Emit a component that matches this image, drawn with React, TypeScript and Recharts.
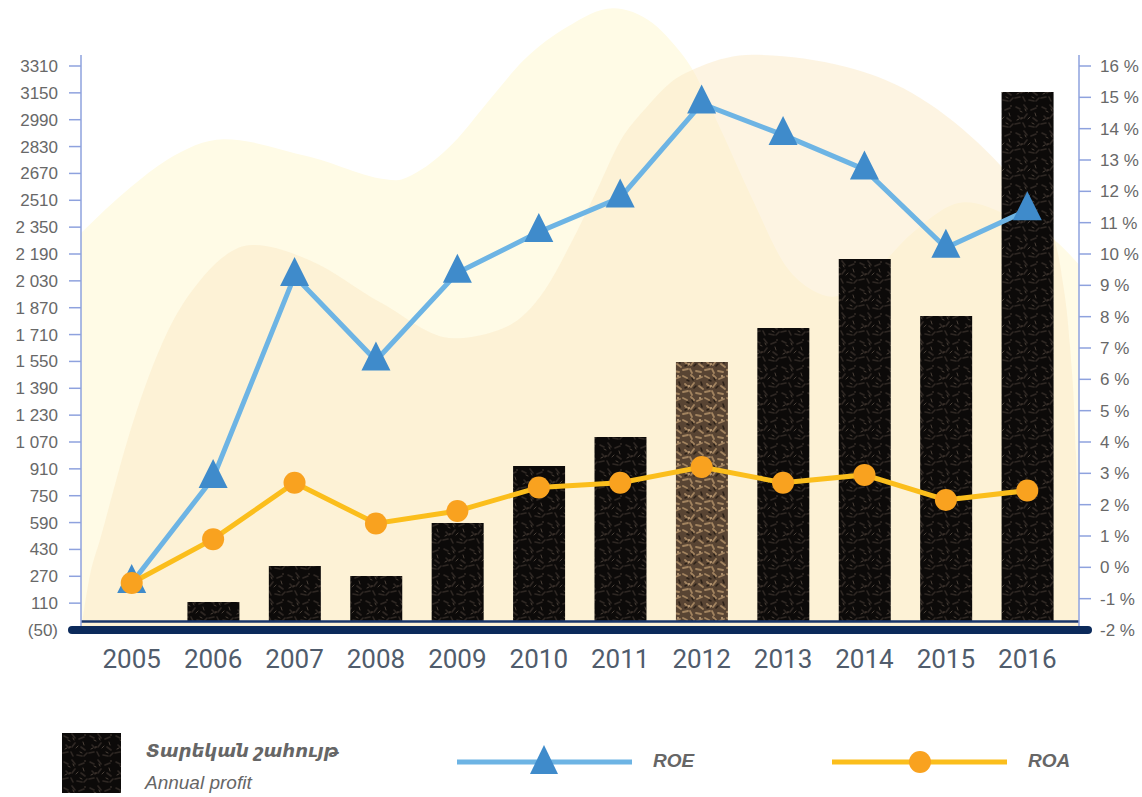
import React from "react";
import { Area, AreaChart, Bar, Cell, ComposedChart, Line, ReferenceLine, XAxis, YAxis } from "recharts";

const YEARS = ["2005", "2006", "2007", "2008", "2009", "2010", "2011", "2012", "2013", "2014", "2015", "2016"];
const PROFIT = [0, 117, 331, 272, 587, 927, 1100, 1546, 1749, 2160, 1820, 3155];
const ROE = [-0.5, 2.85, 9.3, 6.6, 9.4, 10.7, 11.8, 14.8, 13.8, 12.7, 10.2, 11.4];
const ROA = [-0.5, 0.9, 2.7, 1.4, 1.8, 2.55, 2.7, 3.2, 2.7, 2.95, 2.15, 2.45];

const LEFT_TICKS = [-50, 110, 270, 430, 590, 750, 910, 1070, 1230, 1390, 1550, 1710, 1870, 2030, 2190, 2350, 2510, 2670, 2830, 2990, 3150, 3310];
const LEFT_TICK_LABELS = ["(50)", "110", "270", "430", "590", "750", "910", "1 070", "1 230", "1 390", "1 550", "1 710", "1 870", "2 030", "2 190", "2 350", "2510", "2670", "2830", "2990", "3150", "3310"];
const RIGHT_TICKS = [-2, -1, 0, 1, 2, 3, 4, 5, 6, 7, 8, 9, 10, 11, 12, 13, 14, 15, 16];

// decorative background shapes, x and h in percent of the plot box
const BLOB_LIGHT = [
  { x: 0, h: 63 }, { x: 5, h: 70.3 }, { x: 8.6, h: 74.6 }, { x: 14.3, h: 77.9 }, { x: 22.9, h: 75.1 },
  { x: 31.6, h: 71.4 }, { x: 33.7, h: 72.7 }, { x: 37.3, h: 77.3 }, { x: 40.9, h: 84.1 }, { x: 44.4, h: 90.5 },
  { x: 48.7, h: 95.7 }, { x: 53.3, h: 98.7 }, { x: 57.3, h: 96.3 }, { x: 59, h: 93.7 }, { x: 61.3, h: 88.9 },
  { x: 64, h: 79.8 }, { x: 67.3, h: 68.3 }, { x: 70.7, h: 57.6 }, { x: 73.2, h: 54 }, { x: 75.3, h: 52.9 },
  { x: 79.9, h: 57.6 }, { x: 83.3, h: 63 }, { x: 88.6, h: 67.9 }, { x: 93.2, h: 65.6 }, { x: 97.5, h: 62 },
  { x: 100, h: 58 },
];
const BLOB_WARM = [
  { x: 0, h: 0 }, { x: 0.9, h: 8.7 }, { x: 1.9, h: 14.3 }, { x: 5.2, h: 32.9 }, { x: 8.6, h: 47.1 },
  { x: 12.2, h: 56 }, { x: 17.2, h: 61.1 }, { x: 22.9, h: 58.7 }, { x: 30.1, h: 51.9 }, { x: 37.3, h: 46.3 },
  { x: 42.6, h: 48.1 }, { x: 46.5, h: 54 }, { x: 49, h: 61.1 }, { x: 51.7, h: 69.8 }, { x: 54, h: 77.5 },
  { x: 56.7, h: 83 }, { x: 59, h: 86.8 }, { x: 62, h: 89.4 }, { x: 67.3, h: 91.3 }, { x: 76.6, h: 89.4 },
  { x: 83.3, h: 85.2 }, { x: 89.9, h: 77.3 }, { x: 93.2, h: 71.9 }, { x: 96.6, h: 65.6 }, { x: 98.2, h: 57 },
  { x: 99.1, h: 45 }, { x: 99.7, h: 28 }, { x: 100, h: 0 },
];

const data = YEARS.map((year, i) => ({ year, profit: PROFIT[i], roe: ROE[i], roa: ROA[i] }));

const W = 1142;
const H = 797;
const AXIS = "#8ea2de";
const TICK_FONT = { fontSize: 17, fill: "#686868", fontFamily: "Liberation Sans, Arial, sans-serif" };
const ROE_LINE = "#6db4e4";
const ROE_MARK = "#3f8bcb";
const ROA_LINE = "#fbbe1c";
const ROA_MARK = "#f9a21f";

function SoilPatterns() {
  return (
    <>
      <pattern id="soil" width="26" height="26" patternUnits="userSpaceOnUse">
        <rect width="26" height="26" fill="#0c0a09" />
        <path d="M2 3 l4 2 M10 1 l3 4 M17 6 l5 -2 M4 12 l3 3 M13 10 l-3 4 M19 14 l4 3 M1 20 l5 -1 M9 19 l2 4 M15 22 l5 1 M22 23 l3 -3"
          stroke="#2e2723" strokeWidth="1.6" strokeLinecap="round" />
        <path d="M6 7 l2 1 M14 15 l2 -2 M21 9 l1 3 M3 16 l2 -1 M11 5 l1 2 M18 19 l2 1"
          stroke="#4a4038" strokeWidth="1" strokeLinecap="round" />
        <circle cx="8" cy="14" r="0.8" fill="#5a4c42" />
        <circle cx="23" cy="2" r="0.7" fill="#5a4c42" />
      </pattern>
      <pattern id="soilLight" width="22" height="22" patternUnits="userSpaceOnUse">
        <rect width="22" height="22" fill="#584433" />
        <path d="M1 2 l4 2 M9 1 l3 3 M15 5 l5 -2 M3 10 l3 3 M12 9 l-3 4 M17 12 l4 3 M1 18 l5 -1 M8 17 l2 4 M14 19 l5 1"
          stroke="#a2835f" strokeWidth="1.8" strokeLinecap="round" />
        <path d="M5 6 l2 1 M12 14 l2 -2 M19 8 l1 3 M3 14 l2 -1 M10 4 l1 2"
          stroke="#2c2118" strokeWidth="1.6" strokeLinecap="round" />
        <circle cx="7" cy="12" r="1" fill="#c4a47c" />
        <circle cx="18" cy="2" r="1" fill="#c4a47c" />
      </pattern>
    </>
  );
}

function Triangle(props: any) {
  const { cx, cy } = props;
  if (cx == null || cy == null) return null;
  return <path d={`M${cx},${cy - 19} L${cx + 14.5},${cy + 10} L${cx - 14.5},${cy + 10} Z`} fill={ROE_MARK} />;
}

function Blob({ points, fill, opacity }: { points: { x: number; h: number }[]; fill: string; opacity: number }) {
  return (
    <div style={{ position: "absolute", left: 0, top: 0 }}>
      <AreaChart width={W} height={H} data={points} margin={{ top: 0, right: 63, bottom: 167, left: 81 }}>
        <XAxis type="number" dataKey="x" domain={[0, 100]} hide />
        <YAxis domain={[0, 100]} hide />
        <Area type="monotone" dataKey="h" stroke="none" fill={fill} fillOpacity={opacity} dot={false} activeDot={false} isAnimationActive={false} />
      </AreaChart>
    </div>
  );
}

const legendText = { position: "absolute" as const, fontFamily: "Liberation Sans, DejaVu Sans, Arial, sans-serif", fontStyle: "italic", color: "#666" };

export default function App() {
  return (
    <div style={{ position: "absolute", left: 0, top: 0, width: W, height: H, background: "#fff", overflow: "hidden" }}>
      <Blob points={BLOB_LIGHT} fill="#fffbe6" opacity={1} />
      <Blob points={BLOB_WARM} fill="#fbe9c6" opacity={0.5} />

      <div style={{ position: "absolute", left: 0, top: 0 }}>
        <ComposedChart width={W} height={H} data={data} margin={{ top: 55, right: 0, bottom: 0, left: 0 }}>
          <defs>
            <SoilPatterns />
          </defs>
          <XAxis
            dataKey="year"
            height={167}
            padding={{ left: 10, right: 11 }}
            axisLine={false}
            tickLine={false}
            tickSize={0}
            tickMargin={20}
            tick={{ fontSize: 26, fill: "#505c6c", fontFamily: "Roboto, sans-serif" }}
            interval={0}
          />
          <YAxis
            yAxisId="left"
            width={81}
            domain={[-50, 3375.5]}
            ticks={LEFT_TICKS}
            interval={0}
            tickFormatter={(v: number) => LEFT_TICK_LABELS[LEFT_TICKS.indexOf(v)] ?? String(v)}
            axisLine={{ stroke: AXIS, strokeWidth: 1.5 }}
            tickLine={{ stroke: AXIS, strokeWidth: 1.5 }}
            tickSize={12}
            tickMargin={11}
            tick={TICK_FONT}
          />
          <YAxis
            yAxisId="right"
            orientation="right"
            width={63}
            domain={[-2, 16.351]}
            ticks={RIGHT_TICKS}
            interval={0}
            tickFormatter={(v: number) => `${v} %`}
            axisLine={{ stroke: AXIS, strokeWidth: 1.5 }}
            tickLine={{ stroke: AXIS, strokeWidth: 1.5 }}
            tickSize={12}
            tickMargin={9}
            tick={TICK_FONT}
          />
          <Bar yAxisId="left" dataKey="profit" barSize={52} isAnimationActive={false}>
            {data.map((d) => (
              <Cell key={d.year} fill={d.year === "2012" ? "url(#soilLight)" : "url(#soil)"} />
            ))}
          </Bar>
          <ReferenceLine yAxisId="left" y={0} stroke="#17356a" strokeWidth={2.5} />
          <Line
            yAxisId="right"
            dataKey="roe"
            stroke={ROE_LINE}
            strokeWidth={5}
            dot={(p: any) => <Triangle key={`t${p.index}`} {...p} />}
            activeDot={false}
            isAnimationActive={false}
          />
          <Line
            yAxisId="right"
            dataKey="roa"
            stroke={ROA_LINE}
            strokeWidth={5}
            dot={{ r: 11, fill: ROA_MARK, stroke: ROA_MARK, strokeWidth: 0 }}
            activeDot={false}
            isAnimationActive={false}
          />
        </ComposedChart>
      </div>

      {/* heavy base rule */}
      <div style={{ position: "absolute", left: 68, top: 626, width: 1024, height: 8, borderRadius: 4, background: "#0b2a5b" }} />

      {/* legend */}
      <svg style={{ position: "absolute", left: 62, top: 733 }} width={59} height={60}>
        <defs>
          <SoilPatterns />
        </defs>
        <rect width={59} height={60} fill="url(#soil)" />
      </svg>
      <div style={{ ...legendText, left: 146, top: 740, fontSize: 18, fontWeight: 600 }}>Տարեկան շահույթ</div>
      <div style={{ ...legendText, left: 145, top: 772, fontSize: 19 }}>Annual profit</div>

      <svg style={{ position: "absolute", left: 455, top: 744 }} width={180} height={32}>
        <line x1={2} y1={18} x2={177} y2={18} stroke={ROE_LINE} strokeWidth={5} />
        <path d="M89,1 L103,30 L75,30 Z" fill={ROE_MARK} />
      </svg>
      <div style={{ ...legendText, left: 653, top: 750, fontSize: 19, fontWeight: 700 }}>ROE</div>

      <svg style={{ position: "absolute", left: 830, top: 744 }} width={180} height={32}>
        <line x1={2} y1={18} x2={177} y2={18} stroke={ROA_LINE} strokeWidth={5} />
        <circle cx={90} cy={18} r={11} fill={ROA_MARK} />
      </svg>
      <div style={{ ...legendText, left: 1028, top: 750, fontSize: 19, fontWeight: 700 }}>ROA</div>
    </div>
  );
}
